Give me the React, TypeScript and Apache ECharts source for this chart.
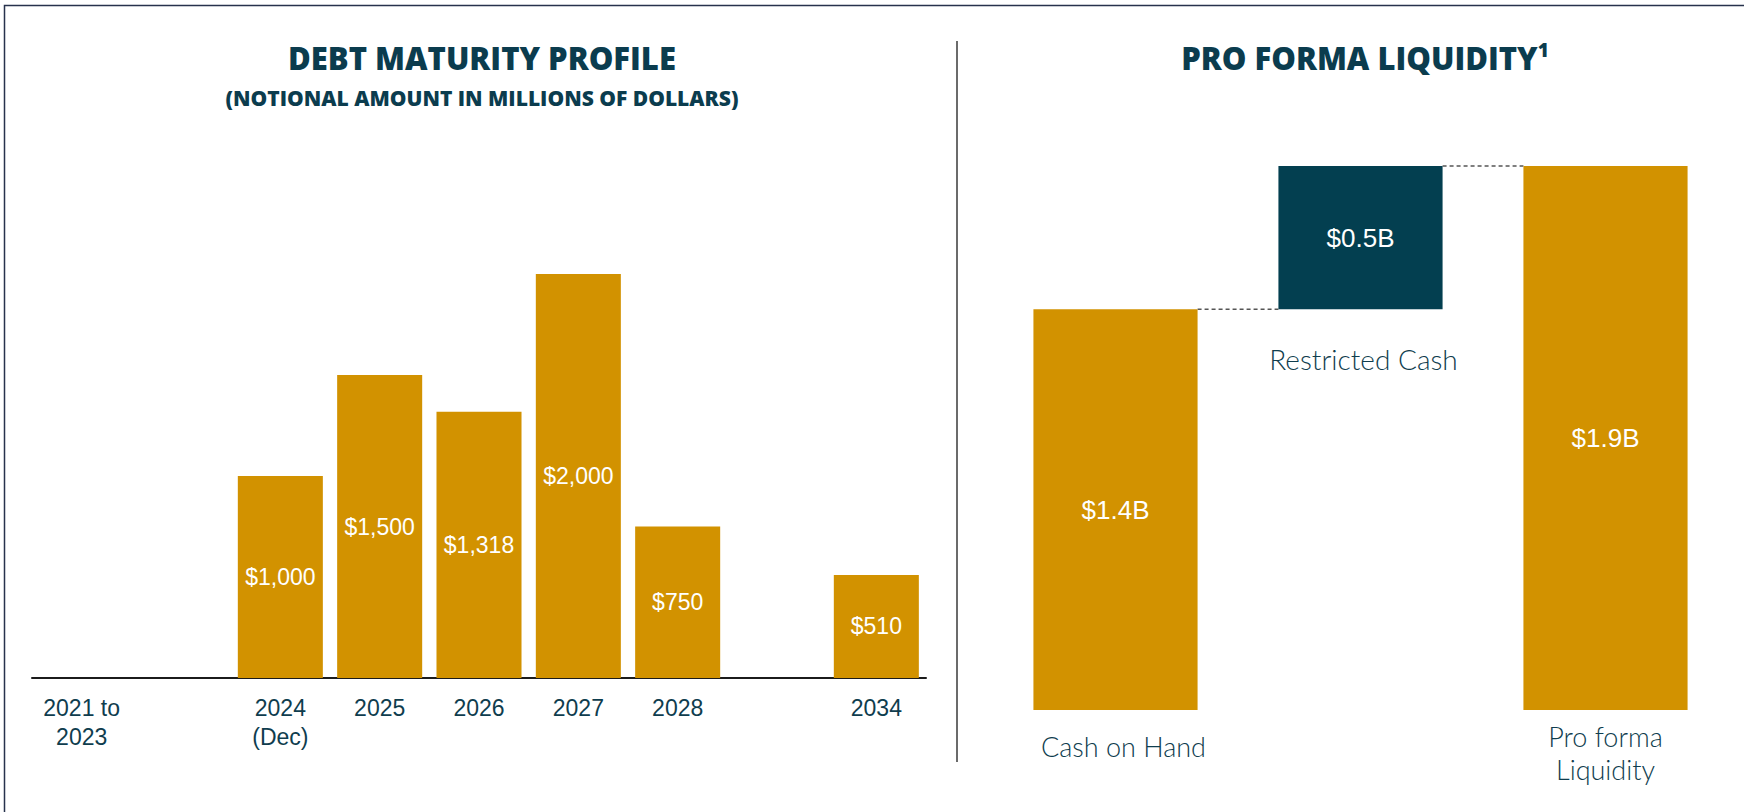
import React, { useEffect, useRef } from "react";
import * as echarts from "echarts";

const debtCategories = ["2021 to\n2023", "", "2024\n(Dec)", "2025", "2026", "2027", "2028", "", "2034"];
const debtValues: (number | null)[] = [0, null, 1000, 1500, 1318, 2000, 750, null, 510];

const liquidityCategories = ["Cash on Hand", "Restricted Cash", "Pro forma\nLiquidity"];
const liquidityValues = [1.4, 0.5, 1.9];

const GOLD = "#D29200";
const NAVY = "#033F50";
const TEAL_TEXT = "#0F3D4E";
const TITLE = "#0B3C4E";

export default function App() {
  const ref = useRef<HTMLDivElement>(null);
  useEffect(() => {
    if (!ref.current) return;
    const chart = echarts.init(ref.current, null, { renderer: "svg" });

    const base = [0, liquidityValues[0], 0];
    const connectors = [
      [0, 1, liquidityValues[0]],
      [1, 2, liquidityValues[0] + liquidityValues[1]],
    ];
    const barColors = [GOLD, NAVY, GOLD];

    const option: any = {
      animation: false,
      backgroundColor: "#ffffff",
      graphic: [
        {
          type: "rect",
          silent: true,
          shape: { x: 4.5, y: 5.5, width: 1900, height: 1000 },
          style: { fill: "none", stroke: "#27324c", lineWidth: 1.5 },
        },
        {
          type: "line",
          silent: true,
          shape: { x1: 957, y1: 41, x2: 957, y2: 762 },
          style: { stroke: "#3a3a3a", lineWidth: 1.5 },
        },
        {
          type: "text",
          silent: true,
          style: {
            x: 482,
            y: 58,
            text: "DEBT MATURITY PROFILE",
            textAlign: "center",
            textVerticalAlign: "middle",
            fill: TITLE,
            font: "800 31px 'Open Sans'",
          },
        },
        {
          type: "text",
          silent: true,
          style: {
            x: 482,
            y: 98,
            text: "(NOTIONAL AMOUNT IN MILLIONS OF DOLLARS)",
            textAlign: "center",
            textVerticalAlign: "middle",
            fill: TITLE,
            font: "800 21px 'Open Sans'",
          },
        },
        {
          type: "text",
          silent: true,
          style: {
            x: 1365,
            y: 58,
            text: "{t|PRO FORMA LIQUIDITY}{s|1}",
            textAlign: "center",
            textVerticalAlign: "middle",
            rich: {
              t: { fill: TITLE, font: "800 31px 'Open Sans'", lineHeight: 36 },
              s: { fill: TITLE, font: "800 19px 'Open Sans'", verticalAlign: "top", lineHeight: 20 },
            },
          },
        },
      ],
      grid: [
        { left: 32, width: 894, top: 274, height: 404 },
        { left: 993, width: 735, top: 166, height: 544 },
      ],
      xAxis: [
        {
          type: "category",
          gridIndex: 0,
          data: debtCategories,
          axisLine: { show: true, lineStyle: { color: "#1b1b1b", width: 2 } },
          axisTick: { show: false },
          axisLabel: {
            interval: 0,
            margin: 15,
            color: TEAL_TEXT,
            fontSize: 23,
            fontFamily: "'Liberation Sans', Arial, sans-serif",
            lineHeight: 29,
          },
        },
        {
          type: "category",
          gridIndex: 1,
          data: liquidityCategories.map((c, i) =>
            i === 0 ? { value: c, textStyle: { lineHeight: 53, padding: [0, 0, 0, 16] } } : c
          ),
          axisLine: { show: false },
          axisTick: { show: false },
          axisLabel: {
            interval: 0,
            margin: 10,
            color: TEAL_TEXT,
            fontSize: 27,
            fontFamily: "Lato, sans-serif",
            fontWeight: 300,
            lineHeight: 33,
            formatter: (v: string, i: number) => (i === 1 ? "" : v),
          },
        },
      ],
      yAxis: [
        { type: "value", gridIndex: 0, min: 0, max: 2000, show: false, splitLine: { show: false } },
        { type: "value", gridIndex: 1, min: 0, max: 1.9, show: false, splitLine: { show: false } },
      ],
      series: [
        {
          type: "bar",
          xAxisIndex: 0,
          yAxisIndex: 0,
          data: debtValues,
          barWidth: "85.6%",
          itemStyle: { color: GOLD },
          label: {
            show: true,
            position: "inside",
            color: "#ffffff",
            fontSize: 23,
            fontFamily: "'Liberation Sans', Arial, sans-serif",
            formatter: (p: any) => (p.value ? "$" + Number(p.value).toLocaleString("en-US") : ""),
          },
          silent: true,
        },
        {
          type: "bar",
          xAxisIndex: 1,
          yAxisIndex: 1,
          stack: "wf",
          barWidth: "67%",
          silent: true,
          itemStyle: { color: "transparent" },
          label: { show: false },
          data: base.map((v, i) =>
            i === 1
              ? {
                  value: v,
                  label: {
                    show: true,
                    position: "insideTop",
                    distance: 36,
                    formatter: liquidityCategories[1],
                    color: TEAL_TEXT,
                    fontSize: 28,
                    fontFamily: "Lato, sans-serif",
                    fontWeight: 300,
                    padding: [0, 0, 0, 6],
                  },
                }
              : v
          ),
        },
        {
          type: "bar",
          xAxisIndex: 1,
          yAxisIndex: 1,
          stack: "wf",
          barWidth: "67%",
          silent: true,
          data: liquidityValues.map((v, i) => ({ value: v, itemStyle: { color: barColors[i] } })),
          label: {
            show: true,
            position: "inside",
            color: "#ffffff",
            fontSize: 26,
            fontFamily: "'Liberation Sans', Arial, sans-serif",
            formatter: (p: any) => "$" + p.value + "B",
          },
        },
        {
          type: "custom",
          xAxisIndex: 1,
          yAxisIndex: 1,
          silent: true,
          data: connectors,
          encode: { x: [0, 1], y: 2 },
          renderItem: (params: any, api: any) => {
            const from = api.value(0);
            const to = api.value(1);
            const level = api.value(2);
            const p1 = api.coord([from, level]);
            const p2 = api.coord([to, level]);
            const band = api.size([1, 0])[0];
            const half = (band * 0.67) / 2;
            return {
              type: "line",
              shape: { x1: p1[0] + half, y1: p1[1], x2: p2[0] - half, y2: p2[1] },
              style: { stroke: "#555555", lineWidth: 1.5, lineDash: [4, 3] },
            };
          },
        },
      ],
    };
    chart.setOption(option);
    return () => chart.dispose();
  }, []);

  return (
    <div
      ref={ref}
      style={{ position: "fixed", left: 0, top: 0, width: 1744, height: 812, background: "#fff" }}
    />
  );
}
